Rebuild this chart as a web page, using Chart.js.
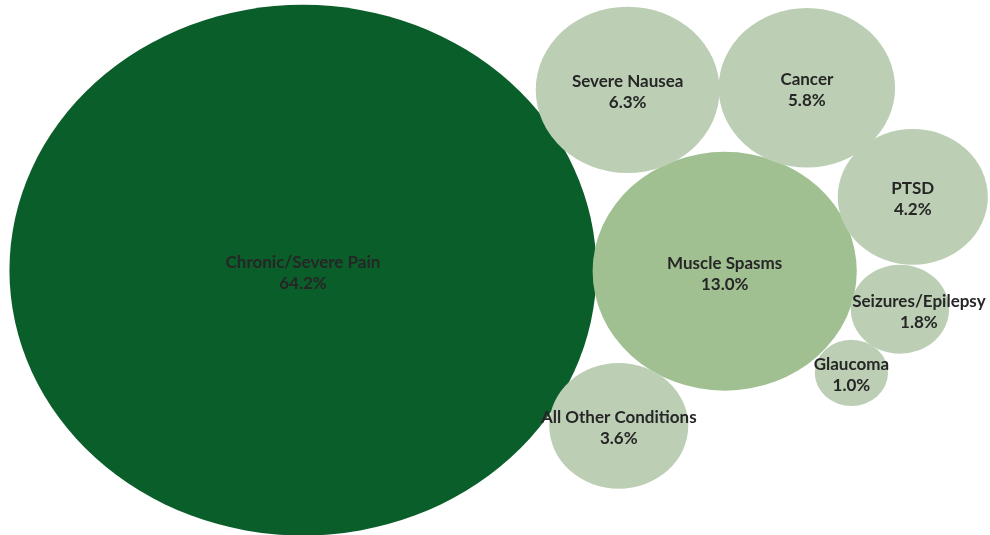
<!DOCTYPE html>
<html>
<head>
<meta charset="utf-8">
<script src="https://cdn.jsdelivr.net/npm/chart.js@4"></script>
<style>
  html, body { margin: 0; padding: 0; background: #fff; }
  #wrap { width: 990px; height: 535px; }
</style>
</head>
<body>
<div id="wrap"><canvas id="conditions-chart"></canvas></div>
<script>
const conditions = ['Chronic/Severe Pain', 'Muscle Spasms', 'Severe Nausea', 'Cancer', 'PTSD', 'Seizures/Epilepsy', 'Glaucoma', 'All Other Conditions']
const shares = [64.2, 13.0, 6.3, 5.8, 4.2, 1.8, 1.0, 3.6]
const xPos = [30.6, 73.2, 63.4, 81.5, 92.2, 90.9, 86.0, 62.5]
const yPos = [49.5, 49.3, 83.2, 83.6, 63.2, 42.2, 30.3, 20.4]
const fills = ['#0a5e2a', '#a0c091', '#bccfb5', '#bccfb5', '#bccfb5', '#bccfb5', '#bccfb5', '#bccfb5']

// bubble area follows the share, so radius goes with sqrt(share), in axis units
const radiusX = 3.7
const radiusY = 6.19

const ellipseBubbles = {
	id: 'ellipseBubbles',
	afterDatasetsDraw(chart, args, opts) {
		const ctx = chart.ctx
		const xs = chart.scales.x
		const ys = chart.scales.y
		const meta = chart.getDatasetMeta(0)
		const rings = meta.data.map((pt, i) => {
			const s = Math.sqrt(shares[i])
			return {
				x: pt.x,
				y: pt.y,
				rx: Math.abs(xs.getPixelForValue(xPos[i] + radiusX * s) - pt.x),
				ry: Math.abs(ys.getPixelForValue(yPos[i] + radiusY * s) - pt.y)
			}
		})
		ctx.save()
		rings.forEach((e, i) => {
			ctx.beginPath()
			ctx.ellipse(e.x, e.y, e.rx, e.ry, 0, 0, Math.PI * 2)
			ctx.fillStyle = fills[i]
			ctx.fill()
		})
		ctx.fillStyle = '#262626'
		ctx.textAlign = 'center'
		ctx.textBaseline = 'middle'
		ctx.font = 'bold 17px Lato'
		rings.forEach((e, i) => {
			// the epilepsy label sits a little right of its bubble
			const lx = e.x + (opts.shiftX[i] || 0)
			ctx.fillText(conditions[i], lx, e.y - 8)
			ctx.fillText(shares[i].toFixed(1) + '%', lx, e.y + 13)
		})
		ctx.restore()
	}
}

const chartCtx = document.getElementById('conditions-chart').getContext('2d')

const conditionsChart = new Chart(chartCtx, {
	type: 'bubble',
	data: {
		labels: conditions,
		datasets: [{
			data: conditions.map((c, i) => ({ x: xPos[i], y: yPos[i], r: 0 })),
			backgroundColor: fills,
			borderWidth: 0
		}]
	},
	options: {
		responsive: true,
		maintainAspectRatio: false,
		animation: false,
		layout: { padding: 0 },
		scales: {
			x: { display: false, min: 0, max: 100 },
			y: { display: false, min: 0, max: 100 }
		},
		plugins: {
			legend: { display: false },
			tooltip: { enabled: false },
			ellipseBubbles: { shiftX: { 5: 19 } }
		}
	},
	plugins: [ellipseBubbles]
})
</script>
</body>
</html>
